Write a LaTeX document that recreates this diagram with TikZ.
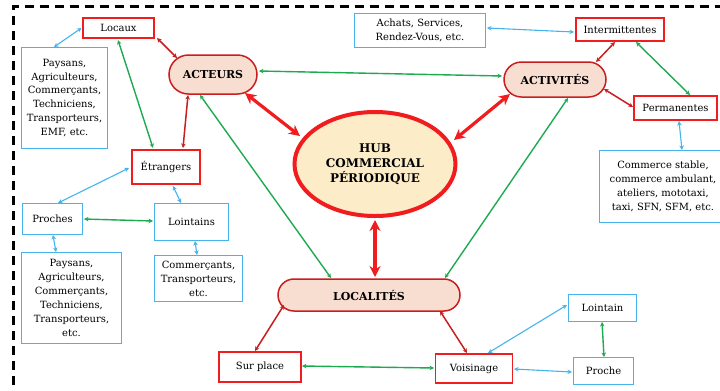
\documentclass[tikz,border=0pt]{standalone}
\usepackage{fontspec}
\setmainfont{DejaVu Serif}
\usetikzlibrary{shapes.misc,shapes.geometric,arrows.meta}
\definecolor{cred}{RGB}{240,28,30}
\definecolor{cblue}{RGB}{70,180,235}
\definecolor{cgreen}{RGB}{30,170,80}
\definecolor{cdred}{RGB}{200,30,32}
\definecolor{cpeach}{RGB}{248,222,208}
\definecolor{chub}{RGB}{253,236,200}
\tikzset{
  txt/.style={align=center,inner sep=0pt,font=\fontsize{10}{14}\selectfont},
  sz/.style 2 args={minimum width=#1bp,minimum height=#2bp},
  redbox/.style={txt,draw=cred,line width=1.8bp,fill=white},
  bluebox/.style={txt,draw=cblue,line width=1.2bp,fill=white},
  pill/.style={rounded rectangle,draw=cdred,line width=1.5bp,fill=cpeach,inner sep=0pt,
    font=\bfseries\fontsize{11}{13}\selectfont},
  hubnode/.style={ellipse,draw=cred,line width=4bp,fill=chub,align=center,inner sep=0pt,
    font=\bfseries\fontsize{12}{15}\selectfont},
  tips/.style={{Stealth[length=4.5bp,width=4.5bp]}-{Stealth[length=4.5bp,width=4.5bp]}},
  bluelink/.style={tips,draw=cblue,line width=1.1bp},
  greenlink/.style={tips,draw=cgreen,line width=1.4bp},
  drlink/.style={tips,draw=cdred,line width=1.5bp},
  biglink/.style={{Stealth[length=11bp,width=11bp]}-{Stealth[length=11bp,width=11bp]},draw=cred,line width=3.2bp},
  frame/.style={draw=black,line width=3bp,dash pattern=on 9bp off 6bp}
}
\begin{document}
\begin{tikzpicture}[x=1bp,y=-1bp]
\useasboundingbox (0,0) rectangle (720,390);
\clip (0,0) rectangle (720,390);
\fill[white] (0,0) rectangle (720,390);
\draw[frame] (13,400) -- (13,6.5) -- (730,6.5);

% nodes
\node[redbox,sz={71}{20}] (locaux) at (118.5,28) {Locaux};
\node[bluebox,sz={86}{101}] (locdesc) at (64.5,98) {Paysans,\\Agriculteurs,\\Commerçants,\\Techniciens,\\Transporteurs,\\EMF, etc.};
\node[pill,sz={88}{39}] (acteurs) at (213,74.5) {ACTEURS};
\node[redbox,sz={68}{34}] (etr) at (166,167) {Étrangers};
\node[bluebox,sz={60}{31}] (proches) at (52.5,219) {Proches};
\node[bluebox,sz={74}{37}] (lointains) at (191.5,222) {Lointains};
\node[bluebox,sz={100}{91}] (prodesc) at (71.5,298) {Paysans,\\Agriculteurs,\\Commerçants,\\Techniciens,\\Transporteurs,\\etc.};
\node[bluebox,sz={88}{46}] (loidesc) at (198.5,278.5) {Commerçants,\\Transporteurs,\\etc.};
\node[bluebox,sz={131}{34}] (achats) at (420,30.5) {Achats, Services,\\Rendez-Vous, etc.};
\node[redbox,sz={88}{23}] (inter) at (620,29.5) {Intermittentes};
\node[pill,sz={102}{35}] (activ) at (555,79.5) {ACTIVITÉS};
\node[redbox,sz={83}{24}] (perm) at (675.5,108) {Permanentes};
\node[bluebox,sz={127}{72}] (permdesc) at (663,186.5) {Commerce stable,\\commerce ambulant,\\ateliers, mototaxi,\\taxi, SFN, SFM, etc.};
\node[hubnode,sz={161}{104}] (hub) at (375,164) {HUB\\COMMERCIAL\\PÉRIODIQUE};
\node[pill,sz={182}{32}] (locs) at (369,295) {LOCALITÉS};
\node[redbox,sz={82}{30}] (surplace) at (260,367) {Sur place};
\node[redbox,sz={77}{29}] (voisin) at (474,368.5) {Voisinage};
\node[bluebox,sz={68}{27}] (lointain) at (602.5,308) {Lointain};
\node[bluebox,sz={60}{27}] (proche) at (603.5,371) {Proche};

% connectors
\draw[bluelink] ([shift={(-10.5,-51)}]locdesc.center) -- ([shift={(-37,0)}]locaux.center);
\draw[drlink] ([shift={(38.5,10)}]locaux.center) -- ([shift={(-36,-16.5)}]acteurs.center);
\draw[greenlink] ([shift={(-0.5,12)}]locaux.center) -- ([shift={(-13,-19)}]etr.center);
\draw[drlink] ([shift={(-25,20.5)}]acteurs.center) -- ([shift={(17,-19)}]etr.center);
\draw[greenlink] ([shift={(46,-3.5)}]acteurs.center) -- ([shift={(-53,-3.5)}]activ.center);
\draw[biglink] ([shift={(32,18.5)}]acteurs.center) -- ([shift={(-75,-28)}]hub.center);
\draw[biglink] ([shift={(-45,14.5)}]activ.center) -- ([shift={(79,-24)}]hub.center);
\draw[greenlink] ([shift={(-13,20.5)}]acteurs.center) -- ([shift={(-38,-17)}]locs.center);
\draw[greenlink] ([shift={(13,18.5)}]activ.center) -- ([shift={(76,-17)}]locs.center);
\draw[biglink] ([shift={(0,56)}]hub.center) -- ([shift={(6,-18)}]locs.center);
\draw[bluelink] ([shift={(-37,1)}]etr.center) -- ([shift={(5.5,-16)}]proches.center);
\draw[bluelink] ([shift={(7,19)}]etr.center) -- ([shift={(-10.5,-19)}]lointains.center);
\draw[greenlink] ([shift={(31.5,0)}]proches.center) -- ([shift={(-38.5,-1)}]lointains.center);
\draw[bluelink] ([shift={(0.5,16)}]proches.center) -- ([shift={(-15.5,-46)}]prodesc.center);
\draw[bluelink] ([shift={(3.5,19)}]lointains.center) -- ([shift={(-1.5,-23.5)}]loidesc.center);
\draw[bluelink] ([shift={(67,-2.5)}]achats.center) -- ([shift={(-46,2.5)}]inter.center);
\draw[drlink] ([shift={(-5,12.5)}]inter.center) -- ([shift={(41,-17.5)}]activ.center);
\draw[greenlink] ([shift={(16,12.5)}]inter.center) -- ([shift={(14.5,-13)}]perm.center);
\draw[drlink] ([shift={(49,9.5)}]activ.center) -- ([shift={(-42.5,-1)}]perm.center);
\draw[bluelink] ([shift={(3.5,13)}]perm.center) -- ([shift={(19,-36.5)}]permdesc.center);
\draw[drlink] ([shift={(-85,10)}]locs.center) -- ([shift={(-5,-16)}]surplace.center);
\draw[drlink] ([shift={(71,16)}]locs.center) -- ([shift={(-7,-15.5)}]voisin.center);
\draw[greenlink] ([shift={(42,-1)}]surplace.center) -- ([shift={(-40,-0.5)}]voisin.center);
\draw[bluelink] ([shift={(14,-15.5)}]voisin.center) -- ([shift={(-35.5,-3)}]lointain.center);
\draw[bluelink] ([shift={(40,0.5)}]voisin.center) -- ([shift={(-31.5,1)}]proche.center);
\draw[greenlink] ([shift={(-0.5,14)}]lointain.center) -- ([shift={(0.5,-14)}]proche.center);
\end{tikzpicture}
\end{document}
